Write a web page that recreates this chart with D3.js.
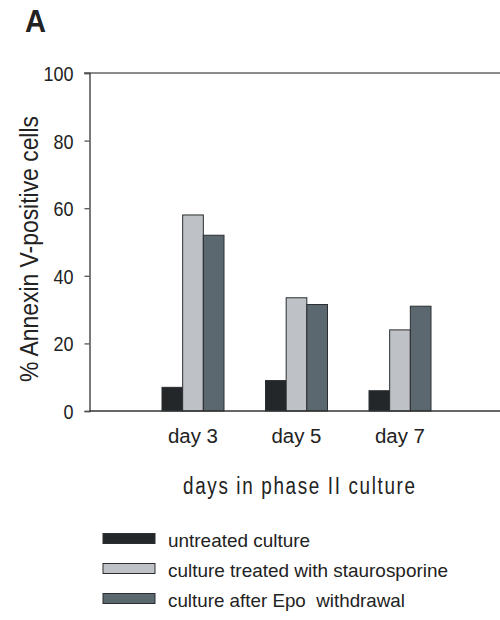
<!DOCTYPE html>
<html><head><meta charset="utf-8">
<script src="https://cdn.jsdelivr.net/npm/d3@7"></script>
<style>body{margin:0;background:#fff;} svg{display:block;}</style>
</head><body>
<script>
const categories = ["day 3", "day 5", "day 7"];
const seriesNames = ["untreated culture", "culture treated with staurosporine", "culture after Epo  withdrawal"];
const untreated = [7, 9, 6];
const staurosporine = [58, 33.5, 24];
const epoWithdrawal = [52, 31.5, 31];
const yTicks = [0, 20, 40, 60, 80, 100];
const colors = ["#23272a", "#bec1c5", "#5b6870"];

const series = [untreated, staurosporine, epoWithdrawal];
const font = "'Liberation Sans', Arial, sans-serif";
const ink = "#222";

const W = 500, H = 620;
const svg = d3.select("body").append("svg").attr("width", W).attr("height", H);

const x0 = 89.5, plotRight = 500;
const y = d3.scaleLinear().domain([0, 100]).range([411, 73]);
const xg = d3.scaleLinear().domain([0, 4]).range([x0, x0 + 4 * 103.5]);
const xb = d3.scaleBand().domain(d3.range(series.length)).range([-31, 31]).padding(0);

// top line
svg.append("line").attr("x1", 84).attr("x2", plotRight).attr("y1", y(100)).attr("y2", y(100))
  .attr("stroke", "#666").attr("stroke-width", 1.3);

// bars
categories.forEach((c, i) => {
  const g = svg.append("g").attr("transform", `translate(${xg(i + 1)},0)`);
  series.forEach((s, k) => {
    g.append("rect")
      .attr("x", xb(k)).attr("width", xb.bandwidth())
      .attr("y", y(s[i])).attr("height", y(0) - y(s[i]))
      .attr("fill", colors[k]).attr("stroke", "#2a2e31").attr("stroke-width", 1);
  });
});

svg.append("line").attr("x1", x0).attr("x2", plotRight).attr("y1", y(0)).attr("y2", y(0))
  .attr("stroke", "#333").attr("stroke-width", 1.5);

// y axis
const yAxis = d3.axisLeft(y).tickValues(yTicks).tickSize(5).tickPadding(11).tickFormat(d3.format("d"));
const ya = svg.append("g").attr("transform", `translate(${x0},0)`).call(yAxis);
ya.select(".domain").attr("stroke", "#333").attr("stroke-width", 1.3);
ya.selectAll(".tick line").attr("stroke", "#555").attr("stroke-width", 1.3);
ya.selectAll(".tick text").attr("font-family", font).attr("font-size", 21).attr("fill", ink)
  .attr("dy", "0.36em")
  .attr("textLength", d => String(d).length * 10).attr("lengthAdjust", "spacingAndGlyphs");

// x labels
svg.append("g").selectAll("text").data(categories).join("text")
  .attr("x", (d, i) => xg(i + 1)).attr("y", 443)
  .attr("text-anchor", "middle").attr("font-family", font).attr("font-size", 20).attr("fill", ink)
  .attr("textLength", 50).attr("lengthAdjust", "spacingAndGlyphs")
  .text(d => d);

// x title: narrow glyphs, wide spacing
svg.append("g").attr("transform", "translate(299,494) scale(0.82,1)")
  .append("text").attr("x", 0).attr("y", 0).attr("text-anchor", "middle")
  .attr("font-family", font).attr("font-size", 23).attr("fill", ink)
  .attr("textLength", 232 / 0.82).attr("lengthAdjust", "spacing")
  .text("days in phase II culture");

svg.append("text").attr("transform", "translate(38,249) rotate(-90)").attr("text-anchor", "middle")
  .attr("font-family", font).attr("font-size", 25).attr("fill", ink)
  .attr("textLength", 266).attr("lengthAdjust", "spacingAndGlyphs")
  .text("% Annexin V-positive cells");

svg.append("text").attr("x", 25).attr("y", 32).attr("font-family", font).attr("font-size", 32)
  .attr("font-weight", "bold").attr("fill", ink)
  .attr("textLength", 21).attr("lengthAdjust", "spacingAndGlyphs").text("A");

// legend
const legendLen = [142, 280, 237];
const lg = svg.append("g");
seriesNames.forEach((n, k) => {
  const top = 533.5 + k * 30;
  lg.append("rect").attr("x", 103).attr("y", top).attr("width", 52).attr("height", 10)
    .attr("fill", colors[k]).attr("stroke", "#2a2e31").attr("stroke-width", 1);
  lg.append("text").attr("x", 168).attr("y", top + 13.5).attr("font-family", font).attr("font-size", 19)
    .attr("fill", ink).attr("xml:space", "preserve").style("white-space", "pre")
    .attr("textLength", legendLen[k]).attr("lengthAdjust", "spacingAndGlyphs").text(n);
});
</script>
</body></html>
